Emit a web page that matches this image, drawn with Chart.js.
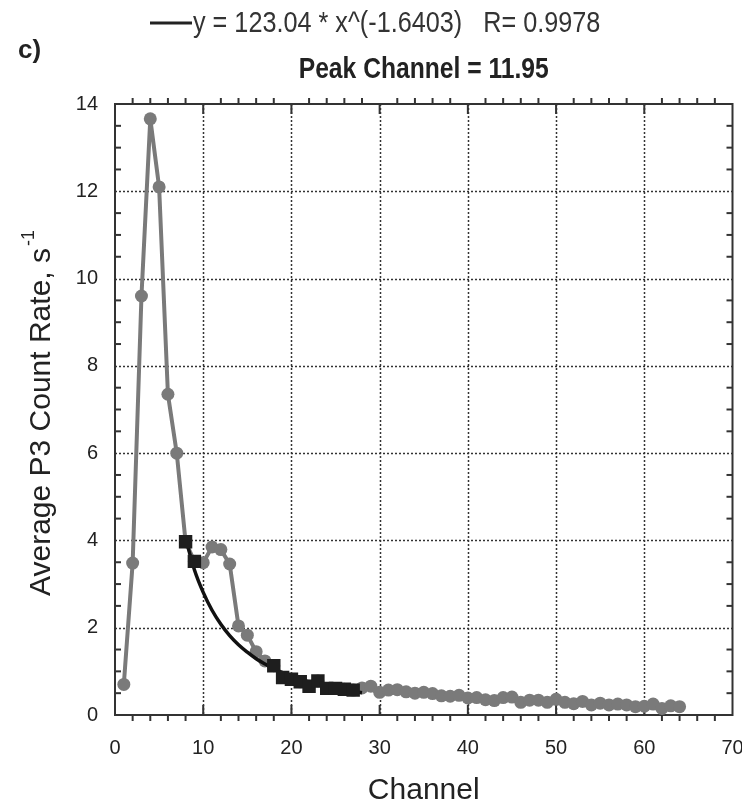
<!DOCTYPE html>
<html>
<head>
<meta charset="utf-8">
<title>Peak Channel</title>
<script src="https://cdn.jsdelivr.net/npm/chart.js@4.4.1/dist/chart.umd.min.js"></script>
<style>
    html, body { margin: 0; padding: 0; background: #fff; }
    #wrap { width: 742px; height: 805px; }
</style>
</head>
<body>
<div id="wrap"><canvas id="peakChart" width="742" height="805"></canvas></div>
<script>
// Channel numbers of the measured spectrum
const channels = [
    1, 2, 3, 4, 5, 6, 7, 8, 9, 10, 11, 12, 13, 14, 15, 16,
    17, 18, 19, 20, 21, 22, 23, 24, 25, 26, 27, 28, 29, 30, 31, 32,
    33, 34, 35, 36, 37, 38, 39, 40, 41, 42, 43, 44, 45, 46, 47, 48,
    49, 50, 51, 52, 53, 54, 55, 56, 57, 58, 59, 60, 61, 62, 63, 64
];

// Average P3 count rate (s^-1)
const countRates = [
    0.70, 3.48, 9.60, 13.66, 12.10, 7.35, 6.00, 3.97, 3.52, 3.49, 3.85, 3.79, 3.46, 2.04, 1.83, 1.45,
    1.24, 1.13, 0.86, 0.82, 0.76, 0.66, 0.78, 0.61, 0.61, 0.59, 0.57, 0.62, 0.66, 0.52, 0.57, 0.58,
    0.53, 0.50, 0.52, 0.49, 0.44, 0.43, 0.45, 0.39, 0.40, 0.35, 0.33, 0.40, 0.41, 0.29, 0.34, 0.34,
    0.29, 0.36, 0.29, 0.26, 0.31, 0.23, 0.27, 0.23, 0.25, 0.23, 0.19, 0.20, 0.25, 0.15, 0.21, 0.19
];

// Channels used for the power-law fit (black squares)
const fitChannels = [8, 9, 18, 19, 20, 21, 22, 23, 24, 25, 26, 27];

// Fitted curve y = 123.04 * x^(-1.6403)
const curveChannels = [8, 9, 10, 11, 12, 13, 14, 15, 16, 17, 18, 19, 20, 21, 22, 23, 24, 25, 26, 27, 28];
const curveRates = [4.06, 3.33, 2.81, 2.40, 2.08, 1.82, 1.61, 1.44, 1.29, 1.17, 1.06, 0.97, 0.89, 0.82, 0.76, 0.70, 0.66, 0.61, 0.57, 0.54, 0.51];

const xTicks = [0, 10, 20, 30, 40, 50, 60, 70];
const yTicks = [0, 2, 4, 6, 8, 10, 12, 14];

const legendText = 'y = 123.04 * x^(-1.6403)   R= 0.9978';
const titleText = 'Peak Channel = 11.95';
const panelLabel = 'c)';
const xTitle = 'Channel';
const yTitle = 'Average P3 Count Rate, s';
const yTitleSup = '-1';

const FONT = '"Liberation Sans", Arial, Helvetica, sans-serif';

const measured = channels.map((c, i) => ({ x: c, y: countRates[i] }));
const fitted = fitChannels.map(c => ({ x: c, y: countRates[channels.indexOf(c)] }));
const curve = curveChannels.map((c, i) => ({ x: c, y: curveRates[i] }));

// Dotted grid, frame, ticks and the free texts
const framePlugin = {
    id: 'frame',
    beforeDatasetsDraw(chart) {
        const { ctx, chartArea: a, scales } = chart;
        const xs = scales.x, ys = scales.y;
        ctx.save();
        ctx.strokeStyle = '#333';
        ctx.lineWidth = 1.5;
        ctx.setLineDash([2, 2]);
        xTicks.slice(1, -1).forEach(v => {
            const px = Math.round(xs.getPixelForValue(v)) + 0.5;
            ctx.beginPath(); ctx.moveTo(px, a.top); ctx.lineTo(px, a.bottom); ctx.stroke();
        });
        yTicks.slice(1, -1).forEach(v => {
            const py = Math.round(ys.getPixelForValue(v)) + 0.5;
            ctx.beginPath(); ctx.moveTo(a.left, py); ctx.lineTo(a.right, py); ctx.stroke();
        });
        ctx.setLineDash([]);

        // minor ticks
        ctx.lineWidth = 2;
        ctx.strokeStyle = '#333';
        for (let v = 2; v < 70; v += 2) {
            if (v % 10 === 0) continue;
            const px = xs.getPixelForValue(v);
            ctx.beginPath(); ctx.moveTo(px, a.bottom); ctx.lineTo(px, a.bottom + 6); ctx.stroke();
            ctx.beginPath(); ctx.moveTo(px, a.top); ctx.lineTo(px, a.top - 6); ctx.stroke();
        }
        for (let v = 0.5; v < 14; v += 0.5) {
            if (v % 2 === 0) continue;
            const py = ys.getPixelForValue(v);
            ctx.beginPath(); ctx.moveTo(a.left, py); ctx.lineTo(a.left + 6, py); ctx.stroke();
            ctx.beginPath(); ctx.moveTo(a.right, py); ctx.lineTo(a.right - 6, py); ctx.stroke();
        }
        // major ticks (inside)
        xTicks.slice(1, -1).forEach(v => {
            const px = xs.getPixelForValue(v);
            ctx.beginPath(); ctx.moveTo(px, a.bottom); ctx.lineTo(px, a.bottom - 10); ctx.stroke();
            ctx.beginPath(); ctx.moveTo(px, a.top); ctx.lineTo(px, a.top + 10); ctx.stroke();
        });

        // frame
        ctx.strokeRect(a.left, a.top, a.right - a.left, a.bottom - a.top);
        ctx.restore();
    },
    afterDraw(chart) {
        const { ctx, chartArea: a } = chart;
        const cx = (a.left + a.right) / 2;
        ctx.save();
        ctx.fillStyle = '#222';

        // panel label
        ctx.font = 'bold 26px ' + FONT;
        ctx.textAlign = 'left';
        ctx.textBaseline = 'alphabetic';
        ctx.fillText(panelLabel, 18, 58);

        // legend line + text (condensed)
        ctx.strokeStyle = '#222';
        ctx.lineWidth = 3;
        ctx.beginPath(); ctx.moveTo(150, 23); ctx.lineTo(192, 23); ctx.stroke();
        ctx.save();
        ctx.translate(193, 32);
        ctx.scale(0.87, 1);
        ctx.font = '29px ' + FONT;
        ctx.fillStyle = '#333';
        ctx.fillText(legendText, 0, 0);
        ctx.restore();

        // title (condensed bold)
        ctx.save();
        ctx.translate(cx, 78);
        ctx.scale(0.85, 1);
        ctx.font = 'bold 29px ' + FONT;
        ctx.textAlign = 'center';
        ctx.fillText(titleText, 0, 0);
        ctx.restore();

        // x axis title
        ctx.font = '30px ' + FONT;
        ctx.textAlign = 'center';
        ctx.fillText(xTitle, cx, 799);

        // y axis title with superscript
        ctx.save();
        ctx.translate(50, 596);
        ctx.rotate(-Math.PI / 2);
        ctx.font = '30px ' + FONT;
        ctx.textAlign = 'left';
        ctx.fillText(yTitle, 0, 0);
        const w = ctx.measureText(yTitle).width;
        ctx.font = '18px ' + FONT;
        ctx.fillText(yTitleSup, w + 2, -16);
        ctx.restore();

        ctx.restore();
    }
};

function renderPeakChart() {
    const ctx = document.getElementById('peakChart');
    new Chart(ctx, {
        type: 'scatter',
        data: {
            datasets: [
                {
                    label: 'fit points',
                    data: fitted,
                    showLine: false,
                    pointStyle: 'rect',
                    pointRadius: 9.5,
                    pointBackgroundColor: '#1e1e1e',
                    pointBorderWidth: 0,
                    order: 1
                },
                {
                    label: 'fit',
                    data: curve,
                    showLine: true,
                    borderColor: '#111',
                    borderWidth: 3.5,
                    pointRadius: 0,
                    tension: 0.4,
                    order: 2
                },
                {
                    label: 'measured',
                    data: measured,
                    showLine: true,
                    borderColor: '#7a7a7a',
                    borderWidth: 4,
                    pointRadius: 6.5,
                    pointBackgroundColor: '#7a7a7a',
                    pointBorderWidth: 0,
                    order: 3
                }
            ]
        },
        options: {
            responsive: false,
            devicePixelRatio: 1,
            animation: false,
            layout: { padding: { top: 104, right: 9, left: 0, bottom: 0 } },
            plugins: {
                legend: { display: false },
                title: { display: false },
                tooltip: { enabled: false }
            },
            scales: {
                x: {
                    type: 'linear',
                    min: 0,
                    max: 70,
                    afterFit: s => { s.height = 90; s.paddingLeft = 0; s.paddingRight = 0; },
                    afterBuildTicks: s => { s.ticks = xTicks.map(v => ({ value: v })); },
                    grid: { display: false, drawTicks: false },
                    border: { display: false },
                    ticks: { color: '#222', font: { size: 20, family: FONT }, padding: 21, maxRotation: 0 }
                },
                y: {
                    type: 'linear',
                    min: 0,
                    max: 14,
                    afterFit: s => { s.width = 115; s.paddingTop = 0; s.paddingBottom = 0; },
                    afterBuildTicks: s => { s.ticks = yTicks.map(v => ({ value: v })); },
                    grid: { display: false, drawTicks: false },
                    border: { display: false },
                    ticks: { color: '#222', font: { size: 20, family: FONT }, padding: 17 }
                }
            }
        },
        plugins: [framePlugin]
    });
}

renderPeakChart();
</script>
</body>
</html>
